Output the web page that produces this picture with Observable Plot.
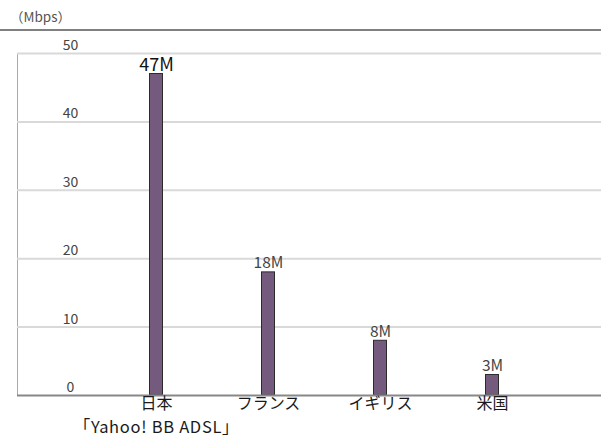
<!DOCTYPE html>
<html>
<head>
<meta charset="utf-8">
<script src="https://cdn.jsdelivr.net/npm/d3@7"></script>
<script src="https://cdn.jsdelivr.net/npm/@observablehq/plot@0.6"></script>
<style>
  html, body { margin: 0; padding: 0; background: #fff; }
  body { width: 601px; font-family: "Noto Sans CJK JP", "Noto Sans", sans-serif; }
  #unit {
    height: 29px;
    border-bottom: 2px solid #808080;
    box-sizing: content-box;
    font-size: 13.5px;
    color: #555;
    line-height: 29px;
    padding-left: 10px;
  }
  #unit span { position: relative; top: 2px; }
  svg { display: block; }
</style>
</head>
<body>
<div id="unit"><span>（Mbps）</span></div>
<div id="chart"></div>
<script>
// Broadband download speeds by country (Mbps)
const countries = ["日本", "フランス", "イギリス", "米国"];
const speeds = [47, 18, 8, 3];
const valueLabels = ["47M", "18M", "8M", "3M"];
const yTicks = [0, 10, 20, 30, 40, 50];
const noteCountry = "日本";
const noteText = "「Yahoo! BB ADSL」";

const rows = countries.map((c, i) => ({country: c, speed: speeds[i], label: valueLabels[i]}));
const maxSpeed = d3.max(speeds);
const leader = rows.filter(d => d.speed === maxSpeed);
const others = rows.filter(d => d.speed !== maxSpeed);

const font = "Noto Sans CJK JP, Noto Sans, sans-serif";

const chart = Plot.plot({
  width: 601,
  height: 407,
  marginLeft: 17,
  marginRight: 0,
  marginTop: 22,
  marginBottom: 43,
  style: {fontFamily: font, background: "#fff"},
  x: {type: "band", domain: countries, range: [100, 548], padding: 0, axis: null},
  y: {domain: [0, 50], axis: null},
  marks: [
    Plot.frame({anchor: "left", stroke: "#aaa", strokeWidth: 1}),
    Plot.ruleY(yTicks.slice(1), {stroke: "#d9d9d9", strokeWidth: 2}),
    Plot.text(yTicks, {
      y: d => d, text: d => String(d), frameAnchor: "left",
      dx: 53, dy: -8, textAnchor: "middle", fontSize: 14, fill: "#444"
    }),
    Plot.barY(rows, {
      x: "country", y: "speed",
      insetLeft: 49.5, insetRight: 49.5,
      fill: "#745a7c", stroke: "#2b2b2b", strokeWidth: 1
    }),
    Plot.ruleY([0], {stroke: "#888", strokeWidth: 2}),
    Plot.text(leader, {
      x: "country", y: "speed", text: "label",
      lineAnchor: "bottom", dy: -3, fontSize: 18, fill: "#111"
    }),
    Plot.text(others, {
      x: "country", y: "speed", text: "label",
      lineAnchor: "bottom", dy: -4, fontSize: 15.5, fill: "#444"
    }),
    Plot.text(countries, {
      x: d => d, y: 0, text: d => d,
      lineAnchor: "middle", dy: 8.5, fontSize: 16, fill: "#1a1a1a"
    }),
    Plot.text([noteCountry], {
      x: d => d, y: 0, text: () => noteText, className: "note",
      lineAnchor: "middle", dy: 32.5, fontSize: 16.5, fill: "#1a1a1a"
    })
  ]
});

// widen the note slightly with letter spacing
d3.select(chart).selectAll(".note text").attr("letter-spacing", "0.7px");

document.getElementById("chart").appendChild(chart);
</script>
</body>
</html>
